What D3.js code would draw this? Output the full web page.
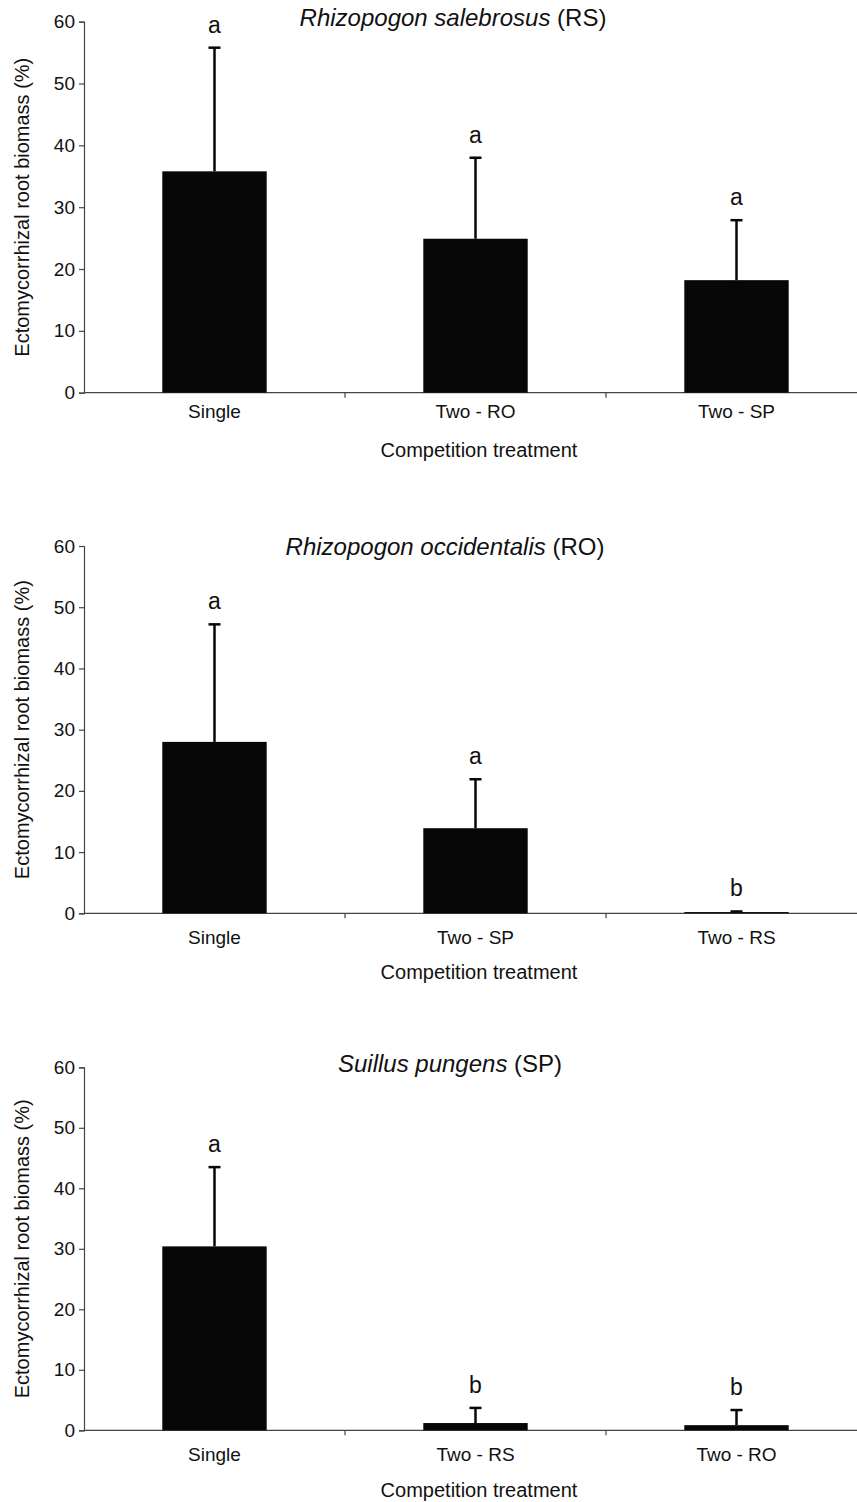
<!DOCTYPE html>
<html><head><meta charset="utf-8">
<script src="https://cdn.jsdelivr.net/npm/d3@7"></script>
<style>
body{margin:0;background:#fff;}
svg{display:block;font-family:"Liberation Sans",Arial,sans-serif;}
</style></head>
<body>
<svg id="chart" width="857" height="1502"></svg>
<script>
const yTicks = [0,10,20,30,40,50,60];
const panelSpecies = ["Rhizopogon salebrosus","Rhizopogon occidentalis","Suillus pungens"];
const panelCodes = ["(RS)","(RO)","(SP)"];
const cats1 = ["Single","Two - RO","Two - SP"];
const cats2 = ["Single","Two - SP","Two - RS"];
const cats3 = ["Single","Two - RS","Two - RO"];
const means1 = [35.8,24.9,18.2];
const means2 = [28.0,13.9,0.2];
const means3 = [30.4,1.2,0.85];
const err1 = [55.8,38.0,27.9];
const err2 = [47.2,21.9,0.3];
const err3 = [43.5,3.7,3.35];
const letters1 = ["a","a","a"];
const letters2 = ["a","a","b"];
const letters3 = ["a","b","b"];
const xTitle = "Competition treatment";
const yTitle = "Ectomycorrhizal root biomass (%)";

const panels = [
  {cats:cats1, means:means1, err:err1, letters:letters1, top:21.7, bottom:392.7, titleX:453, titleY:26, labelY:418, xTitleY:457},
  {cats:cats2, means:means2, err:err2, letters:letters2, top:546, bottom:913.3, titleX:445, titleY:555, labelY:944, xTitleY:979},
  {cats:cats3, means:means3, err:err3, letters:letters3, top:1067.3, bottom:1430.3, titleX:450, titleY:1072, labelY:1461, xTitleY:1497}
];

const svg = d3.select("#chart");
const axisColor = "#444";
const left = 84, right = 867;

panels.forEach((p,i)=>{
  const g = svg.append("g");
  const x = d3.scaleBand().domain(p.cats).range([left,right]).paddingInner(0.6).paddingOuter(0.3);
  const y = d3.scaleLinear().domain([0,60]).range([p.bottom,p.top]);

  const ya = g.append("g").attr("transform",`translate(${left},0)`)
    .call(d3.axisLeft(y).tickValues(yTicks).tickSize(5).tickPadding(4));
  ya.attr("font-size",19).attr("font-family","Liberation Sans, Arial, sans-serif");
  ya.select(".domain").attr("stroke",axisColor).attr("stroke-width",1.2);
  ya.selectAll(".tick line").attr("stroke",axisColor).attr("stroke-width",1.2);
  ya.selectAll(".tick text").attr("fill","#111");

  g.append("line").attr("x1",left).attr("x2",right).attr("y1",y(0)).attr("y2",y(0))
    .attr("stroke",axisColor).attr("stroke-width",1.2);
  const step = x.step();
  p.cats.slice(0,-1).forEach(c=>{
    const bx = x(c) + x.bandwidth()/2 + step/2;
    g.append("line").attr("x1",bx).attr("x2",bx).attr("y1",y(0)).attr("y2",y(0)+5)
      .attr("stroke",axisColor).attr("stroke-width",1.2);
  });

  g.selectAll("rect.bar").data(p.cats).enter().append("rect")
    .attr("x",d=>x(d)).attr("width",x.bandwidth())
    .attr("y",(d,k)=>y(p.means[k])).attr("height",(d,k)=>y(0)-y(p.means[k]))
    .attr("fill","#070707");

  p.cats.forEach((c,k)=>{
    const cx = x(c)+x.bandwidth()/2;
    g.append("line").attr("x1",cx).attr("x2",cx).attr("y1",y(p.means[k])).attr("y2",y(p.err[k]))
      .attr("stroke","#070707").attr("stroke-width",2.5);
    g.append("line").attr("x1",cx-6).attr("x2",cx+6).attr("y1",y(p.err[k])).attr("y2",y(p.err[k]))
      .attr("stroke","#070707").attr("stroke-width",2.5);
    g.append("text").attr("x",cx).attr("y",y(p.err[k])-15).attr("text-anchor","middle")
      .attr("font-size",23).attr("fill","#111").text(p.letters[k]);
    g.append("text").attr("x",cx).attr("y",p.labelY).attr("text-anchor","middle")
      .attr("font-size",19).attr("fill","#111").text(c);
  });

  const t = g.append("text").attr("x",p.titleX).attr("y",p.titleY).attr("text-anchor","middle")
    .attr("font-size",24).attr("fill","#111");
  t.append("tspan").attr("font-style","italic").text(panelSpecies[i]);
  t.append("tspan").text(" "+panelCodes[i]);

  g.append("text").attr("x",479).attr("y",p.xTitleY).attr("text-anchor","middle")
    .attr("font-size",20).attr("fill","#111").text(xTitle);

  g.append("text").attr("transform",`translate(29,${(p.top+p.bottom)/2}) rotate(-90)`)
    .attr("text-anchor","middle").attr("font-size",20).attr("fill","#111").text(yTitle);
});
</script>
</body></html>
